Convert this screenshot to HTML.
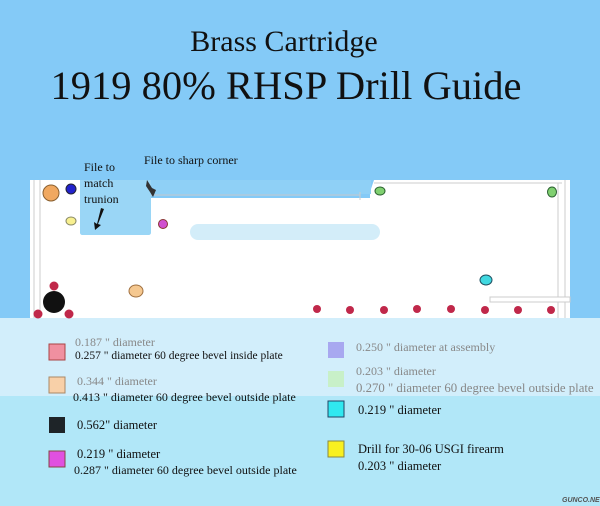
<!DOCTYPE html>
<html><head><style>
body{margin:0;width:600px;height:506px;overflow:hidden;background:#84caf7;font-family:"Liberation Serif",serif;}
svg{position:absolute;left:0;top:0}
</style></head><body>
<svg width="600" height="506" viewBox="0 0 600 506" xmlns="http://www.w3.org/2000/svg" font-family="Liberation Serif, serif">
<rect x="0" y="0" width="600" height="506" fill="#84caf7"/>
<rect x="0" y="318" width="600" height="78" fill="#d2eefb"/>
<rect x="0" y="396" width="600" height="110" fill="#b1e7f8"/>
<text x="284" y="51" font-size="30" text-anchor="middle" fill="#111">Brass Cartridge</text>
<text x="286" y="99" font-size="40.5" text-anchor="middle" fill="#111">1919 80% RHSP Drill Guide</text>
<!-- plate -->
<path d="M30 180 L80 180 L80 232 Q80 235 83 235 L148 235 Q151 235 151 232 L151 198 L370 198 L370 192 L374 180 L570 180 L570 318 L30 318 Z" fill="#fff"/>
<path d="M80 180 L151 180 L151 232 Q151 235 148 235 L83 235 Q80 235 80 232 Z" fill="#9ad6f6"/>
<rect x="151" y="180" width="220" height="14" fill="#8fd0f6"/>
<line x1="151" y1="195" x2="360" y2="195" stroke="#ccc" stroke-width="1"/>
<line x1="360" y1="192" x2="360" y2="200" stroke="#ccc"/>
<line x1="374" y1="183" x2="562" y2="183" stroke="#ccc"/>
<line x1="34" y1="180" x2="34" y2="318" stroke="#ccc"/>
<line x1="40" y1="180" x2="40" y2="318" stroke="#ccc"/>
<line x1="558" y1="183" x2="558" y2="318" stroke="#ccc"/>
<line x1="565" y1="180" x2="565" y2="318" stroke="#ccc"/>
<rect x="490" y="297" width="80" height="5" fill="#fff" stroke="#ccc"/>
<rect x="190" y="224" width="190" height="16" rx="8" fill="#c8e8f8" opacity="0.8"/>
<!-- holes -->
<circle cx="51" cy="193" r="8" fill="#f0a860" stroke="#8a6030"/>
<circle cx="71" cy="189" r="5" fill="#2222cc" stroke="#223"/>
<ellipse cx="71" cy="221" rx="5" ry="4" fill="#f8f090" stroke="#886"/>
<circle cx="163" cy="224" r="4.5" fill="#d050d0" stroke="#833"/>
<circle cx="54" cy="302" r="11" fill="#111"/>
<circle cx="54" cy="286" r="4.5" fill="#c0284a"/>
<circle cx="38" cy="314" r="4.5" fill="#c0284a"/>
<circle cx="69" cy="314" r="4.5" fill="#c0284a"/>
<ellipse cx="136" cy="291" rx="7" ry="6" fill="#f5c890" stroke="#a07040"/>
<ellipse cx="380" cy="191" rx="5" ry="4" fill="#80d070" stroke="#2a6030"/>
<ellipse cx="552" cy="192" rx="4.5" ry="5" fill="#80d070" stroke="#2a6030"/>
<ellipse cx="486" cy="280" rx="6" ry="5" fill="#40d8e0" stroke="#205060"/>
<g fill="#c0284a">
<circle cx="317" cy="309" r="4"/><circle cx="350" cy="310" r="4"/><circle cx="384" cy="310" r="4"/><circle cx="417" cy="309" r="4"/><circle cx="451" cy="309" r="4"/><circle cx="485" cy="310" r="4"/><circle cx="518" cy="310" r="4"/><circle cx="551" cy="310" r="4"/>
</g>
<!-- annotations -->
<text font-size="12" fill="#111"><tspan x="84" y="171">File to</tspan><tspan x="84" y="187">match</tspan><tspan x="84" y="203">trunion</tspan></text>
<text x="144" y="164" font-size="12" fill="#111">File to sharp corner</text>
<path d="M101 208 L97 224 L94 222 L95 230 L101 225 L98 224 L104 209 Z" fill="#111"/>
<path d="M147 180 L152 188 L156 190 L153 197 L150 192 L146 186 Z" fill="#333"/>
<!-- legend -->
<rect x="49" y="344" width="16" height="16" fill="#f090a0" stroke="#a44"/>
<text x="75" y="346" font-size="12" fill="#888">0.187 " diameter</text>
<text x="75" y="359" font-size="11.5" fill="#111">0.257 " diameter 60 degree bevel inside plate</text>
<rect x="49" y="377" width="16" height="16" fill="#f8d0a8" stroke="#a86"/>
<text x="77" y="385" font-size="12" fill="#888">0.344 " diameter</text>
<text x="73" y="401" font-size="12" fill="#111">0.413 " diameter 60 degree bevel outside plate</text>
<rect x="49" y="417" width="16" height="16" fill="#1e2428"/>
<text x="77" y="429" font-size="12.5" fill="#111">0.562" diameter</text>
<rect x="49" y="451" width="16" height="16" fill="#e050e0" stroke="#844"/>
<text x="77" y="458" font-size="12.5" fill="#111">0.219 " diameter</text>
<text x="74" y="474" font-size="12" fill="#111">0.287 " diameter 60 degree bevel outside plate</text>
<rect x="328" y="342" width="16" height="16" fill="#a8a8f0"/>
<text x="356" y="351" font-size="12" fill="#888">0.250 " diameter at assembly</text>
<rect x="328" y="371" width="16" height="16" fill="#c8f0c8"/>
<text x="356" y="375" font-size="12" fill="#888">0.203 " diameter</text>
<text x="356" y="392" font-size="12.8" fill="#888">0.270 " diameter 60 degree bevel outside plate</text>
<rect x="328" y="401" width="16" height="16" fill="#30e8f0" stroke="#246"/>
<text x="358" y="414" font-size="12.5" fill="#111">0.219 " diameter</text>
<rect x="328" y="441" width="16" height="16" fill="#f8f020" stroke="#884"/>
<text x="358" y="453" font-size="12.5" fill="#111">Drill for 30-06 USGI firearm</text>
<text x="358" y="470" font-size="12.5" fill="#111">0.203 " diameter</text>
<text x="562" y="502" font-size="7" font-family="Liberation Sans, sans-serif" font-weight="bold" font-style="italic" fill="#555">GUNCO.NET</text>
</svg>
</body></html>
